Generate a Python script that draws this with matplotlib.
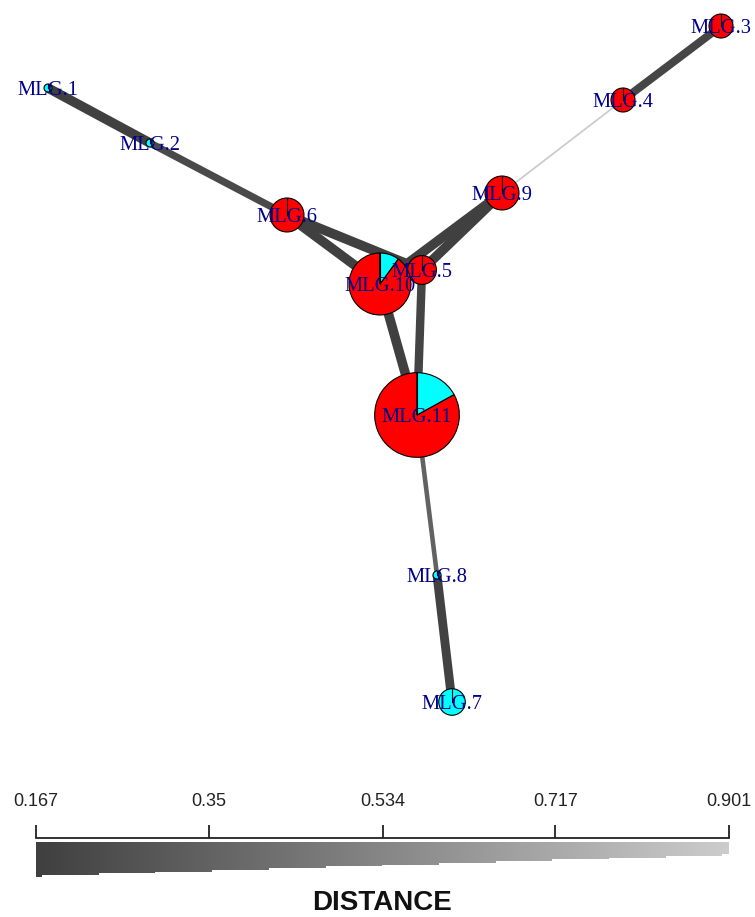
import numpy as np
import matplotlib
matplotlib.use("Agg")
import matplotlib.pyplot as plt
from matplotlib.patches import Wedge, Polygon
from matplotlib.colors import LinearSegmentedColormap, Normalize

# ---------------- data ----------------
mlg_names = ["MLG.1", "MLG.2", "MLG.3", "MLG.4", "MLG.5", "MLG.6",
             "MLG.7", "MLG.8", "MLG.9", "MLG.10", "MLG.11"]
pop_red = [0, 0, 9, 9, 13, 18, 0, 0, 18, 54, 93]
pop_cyan = [1, 1, 0, 0, 0, 0, 11, 1, 0, 6, 19]
# network layout (y up)
layout_x = [48, 150, 721, 623, 422, 287, 452, 437, 502, 380, 417]
layout_y = [829, 774, 891, 817, 647, 702, 215, 342, 724, 633, 502]

edge_from = [1, 2, 6, 6, 3, 4, 9, 9, 10, 5, 11, 8, 10]
edge_to = [2, 6, 10, 5, 4, 9, 5, 10, 11, 11, 8, 7, 5]
edge_dist = [0.167, 0.22, 0.167, 0.167, 0.20, 0.901, 0.167, 0.167, 0.167, 0.19, 0.35, 0.18, 0.167]

scale_ticks = [0.167, 0.35, 0.534, 0.717, 0.901]
scale_labels = ["0.167", "0.35", "0.534", "0.717", "0.901"]

# ---------------- style ----------------
W, H = 755, 917
DPI = 100
PX = 72.0 / DPI
node_scale = 4.0
col_red = "#FF0000"
col_cyan = "#00FFFF"
label_color = "#00008B"
dmin, dmax = min(edge_dist), max(edge_dist)
gray_cmap = LinearSegmentedColormap.from_list("g", [(0.25, 0.25, 0.25), (0.80, 0.80, 0.80)])
norm = Normalize(dmin, dmax)

fig = plt.figure(figsize=(W / DPI, H / DPI), dpi=DPI)
fig.patch.set_facecolor("white")
ax = fig.add_axes([0, 0, 1, 1])
ax.set_xlim(0, W)
ax.set_ylim(0, H)
ax.axis("off")

# edges
for a, b, d in zip(edge_from, edge_to, edge_dist):
    xa, ya = layout_x[a - 1], layout_y[a - 1]
    xb, yb = layout_x[b - 1], layout_y[b - 1]
    ax.plot([xa, xb], [ya, yb], color=gray_cmap(norm(d)), lw=(1.6 / d) * PX,
            solid_capstyle="butt", zorder=1)

# nodes (pies)
for i in range(len(mlg_names)):
    x, y = layout_x[i], layout_y[i]
    tot = pop_red[i] + pop_cyan[i]
    r = node_scale * np.sqrt(tot)
    start = 90.0
    for cnt, col in ((pop_red[i], col_red), (pop_cyan[i], col_cyan)):
        if cnt > 0:
            sweep = 360.0 * cnt / tot
            ax.add_patch(Wedge((x, y), r, start, start + sweep, facecolor=col,
                               edgecolor="black", lw=0.8, zorder=2 + i * 0.01))
            start += sweep
    ax.plot([x, x], [y, y + r], color="black", lw=0.8, zorder=2 + i * 0.01 + 0.005)

for i, name in enumerate(mlg_names):
    ax.text(layout_x[i], layout_y[i], name, ha="center", va="center_baseline",
            fontsize=14.8, family="Liberation Serif", color=label_color, zorder=10)

# ---------------- distance scale bar ----------------
axl = fig.add_axes([36 / W, (H - 877) / H, 693 / W, 39 / H])
axl.set_xlim(dmin, dmax)
axl.set_ylim(0, 39)
span = dmax - dmin
bounds = [dmin] + list(dmin + (6 + 56.7 * np.arange(13)) / 693 * span) + [dmax]
heights = np.linspace(35, 12, len(bounds) - 1)
verts = [(dmin, 35)]
for k in range(len(bounds) - 1):
    verts.append((bounds[k], 35 - heights[k]))
    verts.append((bounds[k + 1], 35 - heights[k]))
verts.append((dmax, 35))
poly = Polygon(verts, closed=True, facecolor="none", edgecolor="none")
axl.add_patch(poly)
grad = np.linspace(dmin, dmax, 400).reshape(1, -1)
im = axl.imshow(grad, cmap=gray_cmap, norm=norm, extent=[dmin, dmax, 0, 35],
                aspect="auto", interpolation="bilinear")
im.set_clip_path(poly)
for s in ("left", "right", "bottom"):
    axl.spines[s].set_visible(False)
axl.spines["top"].set_linewidth(1.3)
axl.spines["top"].set_color("#222222")
axl.set_yticks([])
axl.xaxis.tick_top()
axl.set_xticks(scale_ticks)
axl.set_xticklabels(scale_labels, family="Liberation Sans", fontsize=13, color="#222222")
axl.tick_params(axis="x", direction="out", length=13 * PX, width=1.3, color="#222222", pad=11)
axl.patch.set_alpha(0)

fig.text(382.5 / W, 1 - 903 / H, "DISTANCE", ha="center", va="center", fontsize=20,
         fontweight="bold", family="Liberation Sans", color="#111111")

fig.savefig("out.png", dpi=DPI, facecolor="white")
